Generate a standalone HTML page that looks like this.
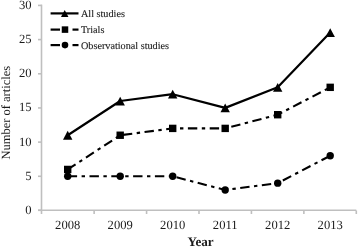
<!DOCTYPE html><html><head><meta charset="utf-8"><style>html,body{margin:0;padding:0;background:#fff;width:358px;height:247px;overflow:hidden}svg{display:block}text{font-family:"Liberation Serif",serif;fill:#1a1a1a;text-rendering:geometricPrecision}.lg{stroke:#1a1a1a;stroke-width:0.12px}</style></head><body>
<svg width="358" height="247" viewBox="0 0 358 247">
<g stroke="#bfbfbf" stroke-width="1.6" fill="none">
<line x1="41.5" y1="4.6" x2="41.5" y2="214"/>
<line x1="38" y1="210.3" x2="356.3" y2="210.3"/>
<line x1="38" y1="210.30" x2="41.5" y2="210.30"/>
<line x1="38" y1="176.28" x2="41.5" y2="176.28"/>
<line x1="38" y1="142.11" x2="41.5" y2="142.11"/>
<line x1="38" y1="107.94" x2="41.5" y2="107.94"/>
<line x1="38" y1="73.77" x2="41.5" y2="73.77"/>
<line x1="38" y1="39.60" x2="41.5" y2="39.60"/>
<line x1="38" y1="5.43" x2="41.5" y2="5.43"/>
<line x1="94.13" y1="210.5" x2="94.13" y2="214"/>
<line x1="146.57" y1="210.5" x2="146.57" y2="214"/>
<line x1="199.00" y1="210.5" x2="199.00" y2="214"/>
<line x1="251.43" y1="210.5" x2="251.43" y2="214"/>
<line x1="303.87" y1="210.5" x2="303.87" y2="214"/>
<line x1="356.30" y1="210.5" x2="356.30" y2="214"/>
</g>
<text x="31.5" y="214.00" font-size="12.6" text-anchor="end">0</text>
<text x="31.5" y="179.79" font-size="12.6" text-anchor="end">5</text>
<text x="31.5" y="145.58" font-size="12.6" text-anchor="end">10</text>
<text x="31.5" y="111.37" font-size="12.6" text-anchor="end">15</text>
<text x="31.5" y="77.16" font-size="12.6" text-anchor="end">20</text>
<text x="31.5" y="42.95" font-size="12.6" text-anchor="end">25</text>
<text x="31.5" y="8.74" font-size="12.6" text-anchor="end">30</text>
<text x="67.70" y="228.7" font-size="12.6" text-anchor="middle">2008</text>
<text x="120.20" y="228.7" font-size="12.6" text-anchor="middle">2009</text>
<text x="172.70" y="228.7" font-size="12.6" text-anchor="middle">2010</text>
<text x="225.20" y="228.7" font-size="12.6" text-anchor="middle">2011</text>
<text x="277.70" y="228.7" font-size="12.6" text-anchor="middle">2012</text>
<text x="330.20" y="228.7" font-size="12.6" text-anchor="middle">2013</text>
<text x="200.5" y="246" font-size="13.1" font-weight="bold" text-anchor="middle">Year</text>
<text transform="translate(9.7,112.7) rotate(-90)" font-size="12.5" text-anchor="middle">Number of articles</text>
<polyline points="67.70,135.24 120.20,101.03 172.70,94.19 225.20,107.87 277.70,87.34 330.20,32.61" fill="none" stroke="#000" stroke-width="2.2" stroke-linejoin="round"/>
<polyline points="67.70,169.45 120.20,135.24 172.70,128.40 225.20,128.40 277.70,114.71 330.20,87.34" fill="none" stroke="#000" stroke-width="2.1" stroke-dasharray="9.4 4.5 3.4 4.5"/>
<polyline points="67.70,176.29 120.20,176.29 172.70,176.29 225.20,189.97 277.70,183.13 330.20,155.76" fill="none" stroke="#000" stroke-width="2.1" stroke-dasharray="9.4 4.5 3.4 4.5"/>
<polygon points="63.00,139.64 72.40,139.64 67.70,130.84" fill="#000"/>
<polygon points="115.50,105.43 124.90,105.43 120.20,96.63" fill="#000"/>
<polygon points="168.00,98.59 177.40,98.59 172.70,89.79" fill="#000"/>
<polygon points="220.50,112.27 229.90,112.27 225.20,103.47" fill="#000"/>
<polygon points="273.00,91.74 282.40,91.74 277.70,82.94" fill="#000"/>
<polygon points="325.50,37.01 334.90,37.01 330.20,28.21" fill="#000"/>
<rect x="64.00" y="165.75" width="7.4" height="7.4" fill="#000"/>
<rect x="116.50" y="131.54" width="7.4" height="7.4" fill="#000"/>
<rect x="169.00" y="124.70" width="7.4" height="7.4" fill="#000"/>
<rect x="221.50" y="124.70" width="7.4" height="7.4" fill="#000"/>
<rect x="274.00" y="111.01" width="7.4" height="7.4" fill="#000"/>
<rect x="326.50" y="83.64" width="7.4" height="7.4" fill="#000"/>
<circle cx="67.70" cy="176.29" r="3.7" fill="#000"/>
<circle cx="120.20" cy="176.29" r="3.7" fill="#000"/>
<circle cx="172.70" cy="176.29" r="3.7" fill="#000"/>
<circle cx="225.20" cy="189.97" r="3.7" fill="#000"/>
<circle cx="277.70" cy="183.13" r="3.7" fill="#000"/>
<circle cx="330.20" cy="155.76" r="3.7" fill="#000"/>
<line x1="50.6" y1="13.4" x2="78.5" y2="13.4" stroke="#000" stroke-width="2.2"/>
<polygon points="60.95,16.90 68.45,16.90 64.70,9.90" fill="#000"/>
<line x1="50.6" y1="29.6" x2="60" y2="29.6" stroke="#000" stroke-width="2.2"/>
<line x1="72.5" y1="29.6" x2="78.5" y2="29.6" stroke="#000" stroke-width="2.2"/>
<line x1="50.6" y1="45.1" x2="60" y2="45.1" stroke="#000" stroke-width="2.2"/>
<line x1="72.5" y1="45.1" x2="78.5" y2="45.1" stroke="#000" stroke-width="2.2"/>
<rect x="61.75" y="26.35" width="6.5" height="6.5" fill="#000"/>
<circle cx="65.00" cy="45.10" r="3.3" fill="#000"/>
<text class="lg" x="81" y="17.00" font-size="10.2">All studies</text>
<text class="lg" x="81" y="33.20" font-size="10.2">Trials</text>
<text class="lg" x="81" y="48.70" font-size="10.2">Observational studies</text>
</svg></body></html>
